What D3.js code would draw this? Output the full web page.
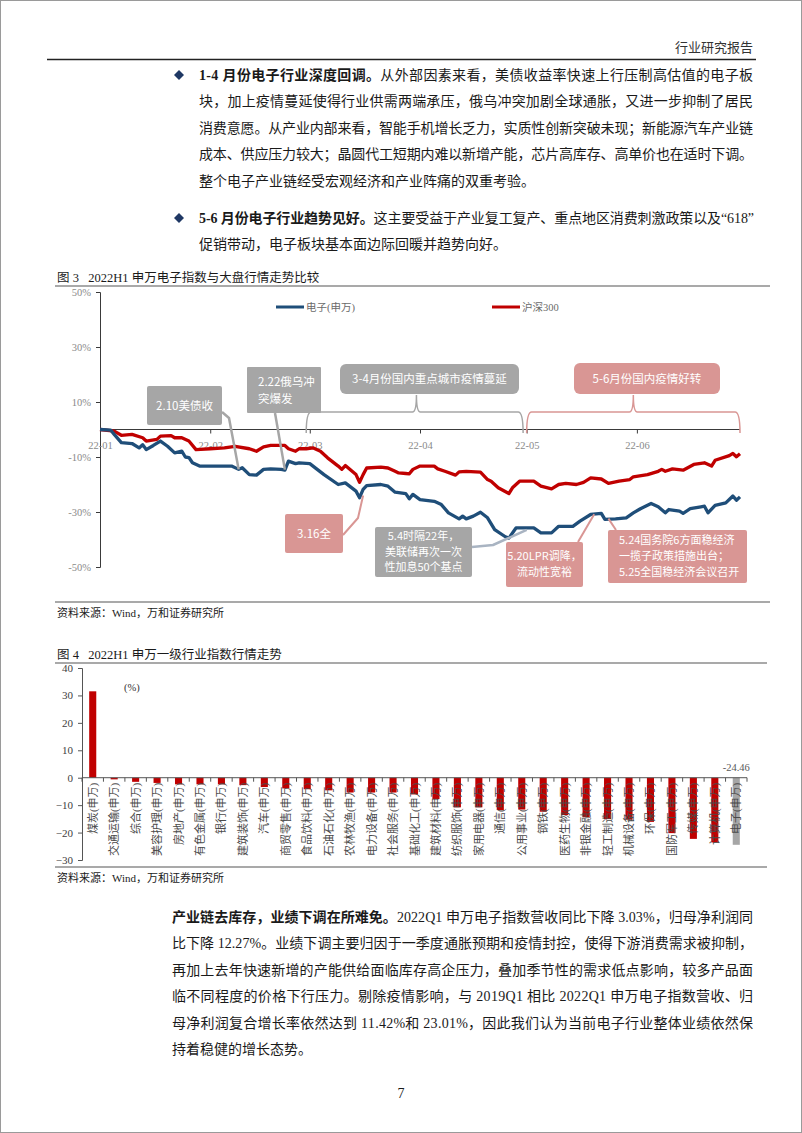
<!DOCTYPE html>
<html><head><meta charset="utf-8">
<script src="https://cdn.jsdelivr.net/npm/d3@7"></script>
<style>
body{margin:0;background:#fff}
svg{display:block}
text{font-family:"Liberation Serif","Noto Sans CJK SC",serif}
.sans{font-family:"Noto Sans CJK SC","Liberation Sans",sans-serif}
</style></head><body>
<svg id="page" width="802" height="1133"></svg>
<script>
// ---------- DATA ----------
const elecSeries = [
["2022-01-01",0],["2022-01-04",-0.2],["2022-01-05",-1.8],["2022-01-07",-4.8],["2022-01-10",-5.1],["2022-01-12",-6.7],["2022-01-13",-5.5],["2022-01-14",-7.3],["2022-01-16",-5.8],["2022-01-18",-4.2],["2022-01-20",-6.1],["2022-01-22",-8.5],["2022-01-24",-7.9],["2022-01-25",-10.0],["2022-01-26",-10.2],["2022-01-27",-12.1],["2022-01-29",-13.3],["2022-02-05",-13.3],["2022-02-07",-13.3],["2022-02-09",-14.5],["2022-02-10",-13.9],["2022-02-12",-16.4],["2022-02-14",-16.6],["2022-02-16",-14.5],["2022-02-18",-14.3],["2022-02-21",-14.5],["2022-02-22",-14.8],["2022-02-23",-11.5],["2022-02-25",-12.4],["2022-02-26",-12.1],["2022-03-01",-12.4],["2022-03-05",-16.4],["2022-03-09",-20.0],["2022-03-11",-19.4],["2022-03-14",-22.4],["2022-03-15",-24.8],["2022-03-16",-21.8],["2022-03-17",-20.4],["2022-03-21",-20.0],["2022-03-23",-20.6],["2022-03-25",-22.8],["2022-03-28",-23.3],["2022-03-29",-25.2],["2022-03-30",-23.6],["2022-04-01",-25.5],["2022-04-05",-26.1],["2022-04-07",-27.3],["2022-04-09",-30.3],["2022-04-12",-32.5],["2022-04-13",-31.5],["2022-04-14",-32.5],["2022-04-16",-31.5],["2022-04-18",-30.1],["2022-04-20",-32.1],["2022-04-22",-36.4],["2022-04-25",-39.0],["2022-04-26",-39.5],["2022-04-28",-35.8],["2022-05-03",-35.8],["2022-05-05",-37.6],["2022-05-08",-37.6],["2022-05-10",-35.2],["2022-05-14",-35.2],["2022-05-16",-33.3],["2022-05-19",-30.9],["2022-05-22",-30.5],["2022-05-23",-32.7],["2022-05-26",-32.5],["2022-05-29",-32.1],["2022-05-31",-30.3],["2022-06-02",-28.8],["2022-06-05",-26.9],["2022-06-07",-28.1],["2022-06-09",-30.3],["2022-06-10",-29.1],["2022-06-13",-29.7],["2022-06-14",-30.5],["2022-06-16",-28.8],["2022-06-19",-28.1],["2022-06-20",-27.9],["2022-06-21",-30.3],["2022-06-23",-27.6],["2022-06-26",-26.7],["2022-06-28",-24.2],["2022-06-29",-25.7],["2022-06-30",-24.5]
];
const hs300Series = [
["2022-01-01",0],["2022-01-05",-0.6],["2022-01-07",-2.1],["2022-01-10",-1.8],["2022-01-13",-3.0],["2022-01-14",-4.2],["2022-01-17",-3.6],["2022-01-18",-2.4],["2022-01-21",-2.2],["2022-01-22",-3.0],["2022-01-24",-3.0],["2022-01-26",-4.2],["2022-01-28",-7.3],["2022-02-01",-7.0],["2022-02-05",-6.7],["2022-02-08",-6.1],["2022-02-12",-7.0],["2022-02-14",-7.9],["2022-02-16",-6.3],["2022-02-18",-5.8],["2022-02-22",-5.8],["2022-02-23",-7.0],["2022-02-25",-7.9],["2022-02-26",-7.0],["2022-02-28",-7.0],["2022-03-02",-6.7],["2022-03-04",-7.9],["2022-03-06",-10.3],["2022-03-09",-13.3],["2022-03-10",-14.5],["2022-03-11",-13.1],["2022-03-14",-16.4],["2022-03-15",-19.2],["2022-03-16",-16.4],["2022-03-17",-14.0],["2022-03-21",-13.7],["2022-03-23",-14.0],["2022-03-25",-15.2],["2022-03-26",-15.8],["2022-03-28",-16.0],["2022-03-29",-16.1],["2022-03-30",-14.5],["2022-04-01",-13.3],["2022-04-05",-13.3],["2022-04-06",-14.3],["2022-04-08",-15.2],["2022-04-11",-16.6],["2022-04-12",-15.4],["2022-04-14",-15.2],["2022-04-18",-15.5],["2022-04-20",-18.2],["2022-04-21",-18.8],["2022-04-23",-21.2],["2022-04-26",-23.3],["2022-04-27",-21.2],["2022-04-29",-18.8],["2022-05-03",-18.8],["2022-05-05",-20.6],["2022-05-08",-21.6],["2022-05-10",-20.0],["2022-05-12",-19.6],["2022-05-15",-20.0],["2022-05-17",-19.2],["2022-05-19",-17.6],["2022-05-22",-18.0],["2022-05-24",-19.6],["2022-05-27",-18.8],["2022-05-30",-18.2],["2022-05-31",-17.2],["2022-06-04",-16.4],["2022-06-07",-15.2],["2022-06-08",-14.5],["2022-06-09",-15.2],["2022-06-11",-14.3],["2022-06-14",-14.8],["2022-06-17",-12.7],["2022-06-20",-12.1],["2022-06-22",-13.3],["2022-06-23",-11.2],["2022-06-27",-9.5],["2022-06-28",-8.7],["2022-06-29",-9.9],["2022-06-30",-8.8]
];
const lineSeriesNames = ["电子(申万)","沪深300"];
const lineYTicks = [-50,-30,-10,10,30,50];

const industries = ["煤炭(申万)","交通运输(申万)","综合(申万)","美容护理(申万)","房地产(申万)","有色金属(申万)","银行(申万)","建筑装饰(申万)","汽车(申万)","商贸零售(申万)","食品饮料(申万)","石油石化(申万)","农林牧渔(申万)","电力设备(申万)","社会服务(申万)","基础化工(申万)","建筑材料(申万)","纺织服饰(申万)","家用电器(申万)","通信(申万)","公用事业(申万)","钢铁(申万)","医药生物(申万)","非银金融(申万)","轻工制造(申万)","机械设备(申万)","环保(申万)","国防军工(申万)","传媒(申万)","计算机(申万)","电子(申万)"];
const industryReturns = [31.5,-0.6,-1.5,-1.9,-2.4,-2.4,-2.4,-2.7,-3.4,-3.9,-4.2,-4.6,-5.4,-5.4,-5.4,-6.1,-7.8,-10.8,-10.8,-11.8,-11.6,-12.4,-13.6,-14.4,-15.1,-15.3,-16.1,-20.2,-22.3,-23.6,-24.46];
const barYTicks = [-30,-20,-10,0,10,20,30,40];

// ---------- PAGE ----------
const svg = d3.select("#page");
const parse = d3.timeParse("%Y-%m-%d");
const TXT = "#1a1a1a";

svg.append("rect").attr("x",0.5).attr("y",0.5).attr("width",801).attr("height",1132)
  .attr("fill","#fff").attr("stroke","#9a9a9a");

// header
svg.append("text").attr("x",753).attr("y",52).attr("text-anchor","end").attr("font-size",13).attr("fill","#333").text("行业研究报告");
svg.append("line").attr("x1",47).attr("x2",756).attr("y1",59.5).attr("y2",59.5).attr("stroke","#222").attr("stroke-width",1.5);

function paragraph(lines, x0, x1, y0, lh, size){
  lines.forEach((ln,i)=>{
    const t = svg.append("text").attr("x",x0).attr("y",y0+i*lh).attr("font-size",size).attr("fill",TXT);
    const m = ln.s.match(/^\*\*(.*?)\*\*(.*)$/);
    if(m){ t.append("tspan").attr("font-weight","bold").text(m[1]); t.append("tspan").text(m[2]); }
    else t.text(ln.s);
    if(ln.full) t.attr("textLength",x1-x0).attr("lengthAdjust","spacing");
  });
}
function diamond(cx,cy){
  svg.append("path").attr("d",`M${cx},${cy-5}L${cx+5},${cy}L${cx},${cy+5}L${cx-5},${cy}Z`).attr("fill","#1f3864");
}
diamond(179,75);
paragraph([
 {s:"**1-4 月份电子行业深度回调。**从外部因素来看，美债收益率快速上行压制高估值的电子板",full:true},
 {s:"块，加上疫情蔓延使得行业供需两端承压，俄乌冲突加剧全球通胀，又进一步抑制了居民",full:true},
 {s:"消费意愿。从产业内部来看，智能手机增长乏力，实质性创新突破未现；新能源汽车产业链",full:true},
 {s:"成本、供应压力较大；晶圆代工短期内难以新增产能，芯片高库存、高单价也在适时下调。",full:true},
 {s:"整个电子产业链经受宏观经济和产业阵痛的双重考验。",full:false}
],199,753,80,26.4,14);
diamond(179,218);
paragraph([
 {s:"**5-6 月份电子行业趋势见好。**这主要受益于产业复工复产、重点地区消费刺激政策以及“618”",full:true},
 {s:"促销带动，电子板块基本面边际回暖并趋势向好。",full:false}
],199,754,223,26.4,14);

// ---------- FIGURE 3 ----------
svg.append("text").attr("x",57).attr("y",282).attr("font-size",12.5).attr("fill",TXT).text("图 3\u00a0\u00a0\u00a02022H1 申万电子指数与大盘行情走势比较");
svg.append("line").attr("x1",55).attr("x2",770).attr("y1",286).attr("y2",286).attr("stroke","#8c8c8c").attr("stroke-width",1.5);

const x1s = d3.scaleTime().domain([parse("2022-01-01"),parse("2022-06-30")]).range([100,740]);
const y1s = d3.scaleLinear().domain([-50,50]).range([567,292]);

const gy1 = svg.append("g").attr("transform","translate(100,0)")
  .call(d3.axisLeft(y1s).tickValues(lineYTicks).tickSize(4).tickPadding(5).tickFormat(d=>d+"%"));
const gx1 = svg.append("g").attr("transform",`translate(0,${y1s(0)})`)
  .call(d3.axisBottom(x1s).ticks(d3.timeMonth.every(1)).tickSize(4).tickPadding(8).tickFormat(d3.timeFormat("%y-%m")));
[gy1,gx1].forEach(g=>{
  g.select(".domain").attr("stroke","#3a3a3a");
  g.selectAll(".tick line").attr("stroke","#3a3a3a");
  g.selectAll(".tick text").attr("fill","#8a8a8a").attr("font-size",10.5).attr("font-family","Liberation Serif");
});
gx1.select(".domain").attr("d",`M100,0H740`);

const line = d3.line().x(d=>x1s(parse(d[0]))).y(d=>y1s(d[1]));
const seriesCols = ["#1f4e79","#c00000"];
[hs300Series, elecSeries].forEach((s,i)=>{
  svg.append("path").datum(s).attr("d",line).attr("fill","none")
    .attr("stroke", i===0?seriesCols[1]:seriesCols[0]).attr("stroke-width",3.3).attr("stroke-linejoin","round");
});

// legend
[[276,lineSeriesNames[0],seriesCols[0]],[492,lineSeriesNames[1],seriesCols[1]]].forEach(([lx,name,c])=>{
  svg.append("line").attr("x1",lx).attr("x2",lx+28).attr("y1",307).attr("y2",307).attr("stroke",c).attr("stroke-width",3);
  svg.append("text").attr("x",lx+30).attr("y",311).attr("font-size",10.5).attr("fill","#6a6a6a").text(name);
});

// annotations
const GRAY="#a6a6a6", PINK="#d99694";
function box(x,y,w,h,fill,r,lines,opt={}){
  svg.append("rect").attr("x",x).attr("y",y).attr("width",w).attr("height",h).attr("rx",r).attr("fill",fill);
  const lh = opt.lh||16, fs = opt.fs||11.5;
  const total = (lines.length-1)*lh;
  lines.forEach((t,i)=>{
    svg.append("text").attr("class","sans")
      .attr("x", opt.left? x+opt.left : x+w/2)
      .attr("y", y+h/2 - total/2 + i*lh + fs*0.36)
      .attr("text-anchor", opt.left?"start":"middle")
      .attr("font-size",fs).attr("fill","#fff").text(t);
  });
}
function leader(pts,col,w){
  svg.append("path").attr("d",d3.line()(pts)).attr("fill","none").attr("stroke",col).attr("stroke-width",w||2.5).attr("stroke-linejoin","round");
}
const P = (d,v)=>[x1s(parse(d)),y1s(v)];
function brace(d0,dc,d1,col){
  const a=x1s(parse(d0)), c=x1s(parse(dc)), b=x1s(parse(d1));
  const yb=412, yt=395, ye=433;
  const p = `M${a},${ye} Q${a},${yb} ${a+5},${yb} L${c-4},${yb} Q${c},${yb} ${c},${yt} Q${c},${yb} ${c+4},${yb} L${b-5},${yb} Q${b},${yb} ${b},${ye}`;
  svg.append("path").attr("d",p).attr("fill","none").attr("stroke",col).attr("stroke-width",1.5);
}
brace("2022-02-28","2022-03-31","2022-04-30",GRAY);
brace("2022-05-01","2022-05-31","2022-06-30",PINK);

leader([[222,412],[229,418],P("2022-02-09",-14.5)],GRAY,2.5);
leader([[275,413],P("2022-02-22",-14.6)],GRAY,2.5);
leader([[343,535],[358,518],P("2022-03-16",-24)],PINK,2);
leader([[472,547],[493,545],P("2022-05-01",-36.5)],"#a9b4c2",2.5);
leader([[578,542],P("2022-05-20",-30.8)],PINK,2);
leader([[616,530],P("2022-05-24",-32.4)],PINK,2);

box(147,386,75,39,GRAY,2,["2.10美债收"]);
box(247,367,74,46,GRAY,1,["2.22俄乌冲","突爆发"],{left:11,lh:17});
box(340,364,179,30,GRAY,6,["3-4月份国内重点城市疫情蔓延"]);
box(574,363,146,31,PINK,6,["5-6月份国内疫情好转"]);
box(285,514,58,39,PINK,2,["3.16全"]);
box(375,527,97,50,GRAY,2,["5.4时隔22年，","美联储再次一次","性加息50个基点"],{lh:15.5,fs:11});
box(506,542,77,45,PINK,2,["5.20LPR调降，","流动性宽裕"],{lh:16,fs:11});
box(608,530,139,53,PINK,2,["5.24国务院6方面稳经济","一揽子政策措施出台；","5.25全国稳经济会议召开"],{left:11,lh:16,fs:11});

svg.append("line").attr("x1",55).attr("x2",770).attr("y1",602).attr("y2",602).attr("stroke","#8c8c8c").attr("stroke-width",1.5);
svg.append("text").attr("x",57).attr("y",617).attr("font-size",11).attr("fill",TXT).text("资料来源：Wind，万和证券研究所");

// ---------- FIGURE 4 ----------
svg.append("text").attr("x",57).attr("y",659).attr("font-size",12.5).attr("fill",TXT).text("图 4\u00a0\u00a0\u00a02022H1 申万一级行业指数行情走势");
svg.append("line").attr("x1",55).attr("x2",767).attr("y1",663).attr("y2",663).attr("stroke","#8c8c8c").attr("stroke-width",1.5);

const x2s = d3.scaleBand().domain(industries).range([82,747]).paddingInner(0.67).paddingOuter(0.335);
const y2s = d3.scaleLinear().domain([-30,40]).range([860,668]);

const gy2 = svg.append("g").attr("transform","translate(82,0)")
  .call(d3.axisLeft(y2s).tickValues(barYTicks).tickSize(4).tickPadding(5).tickFormat(d3.format("d")));
gy2.select(".domain").attr("stroke","#555");
gy2.selectAll(".tick line").attr("stroke","#555");
gy2.selectAll(".tick text").attr("fill","#404040").attr("font-size",11).attr("font-family","Liberation Sans");

svg.selectAll(".bar").data(industries).enter().append("rect")
  .attr("x",d=>x2s(d)).attr("width",x2s.bandwidth())
  .attr("y",(d,i)=>y2s(Math.max(0,industryReturns[i])))
  .attr("height",(d,i)=>Math.abs(y2s(industryReturns[i])-y2s(0)))
  .attr("fill",(d,i)=>i===industries.length-1?"#a6a6a6":"#c00000");

const gx2 = svg.append("g").attr("transform",`translate(0,${y2s(0)})`)
  .call(d3.axisBottom(x2s).tickSize(0).tickFormat(""));
gx2.select(".domain").attr("stroke","#555").attr("d","M82,0H747");
const step = x2s.step();
svg.selectAll(".btick").data(d3.range(industries.length+1)).enter().append("line")
  .attr("x1",i=>82+i*step).attr("x2",i=>82+i*step)
  .attr("y1",y2s(0)).attr("y2",y2s(0)+4).attr("stroke","#555");

svg.selectAll(".clab").data(industries).enter().append("text")
  .attr("transform",d=>`translate(${x2s(d)+x2s.bandwidth()/2+4},${y2s(0)+5}) rotate(-90)`)
  .attr("text-anchor","end").attr("font-size",11).attr("fill","#4a4a4a").text(d=>d);

svg.append("text").attr("x",x2s(industries[industries.length-1])+x2s.bandwidth()/2).attr("y",y2s(0)-7)
  .attr("text-anchor","middle").attr("font-size",10.5).attr("font-family","Liberation Sans").attr("fill","#595959")
  .text(industryReturns[industryReturns.length-1].toFixed(2));
svg.append("text").attr("x",124).attr("y",691).attr("font-size",10.5).attr("fill","#333").text("(%)");

svg.append("line").attr("x1",55).attr("x2",767).attr("y1",867).attr("y2",867).attr("stroke","#8c8c8c").attr("stroke-width",1.5);
svg.append("text").attr("x",57).attr("y",882).attr("font-size",11).attr("fill",TXT).text("资料来源：Wind，万和证券研究所");

// ---------- bottom paragraph ----------
paragraph([
 {s:"**产业链去库存，业绩下调在所难免。**2022Q1 申万电子指数营收同比下降 3.03%，归母净利润同",full:true},
 {s:"比下降 12.27%。业绩下调主要归因于一季度通胀预期和疫情封控，使得下游消费需求被抑制，",full:true},
 {s:"再加上去年快速新增的产能供给面临库存高企压力，叠加季节性的需求低点影响，较多产品面",full:true},
 {s:"临不同程度的价格下行压力。剔除疫情影响，与 2019Q1 相比 2022Q1 申万电子指数营收、归",full:true},
 {s:"母净利润复合增长率依然达到 11.42%和 23.01%，因此我们认为当前电子行业整体业绩依然保",full:true},
 {s:"持着稳健的增长态势。",full:false}
],172,753,922,26.4,14);

svg.append("text").attr("x",401).attr("y",1098).attr("text-anchor","middle").attr("font-size",14).attr("fill",TXT).text("7");
</script></body></html>
